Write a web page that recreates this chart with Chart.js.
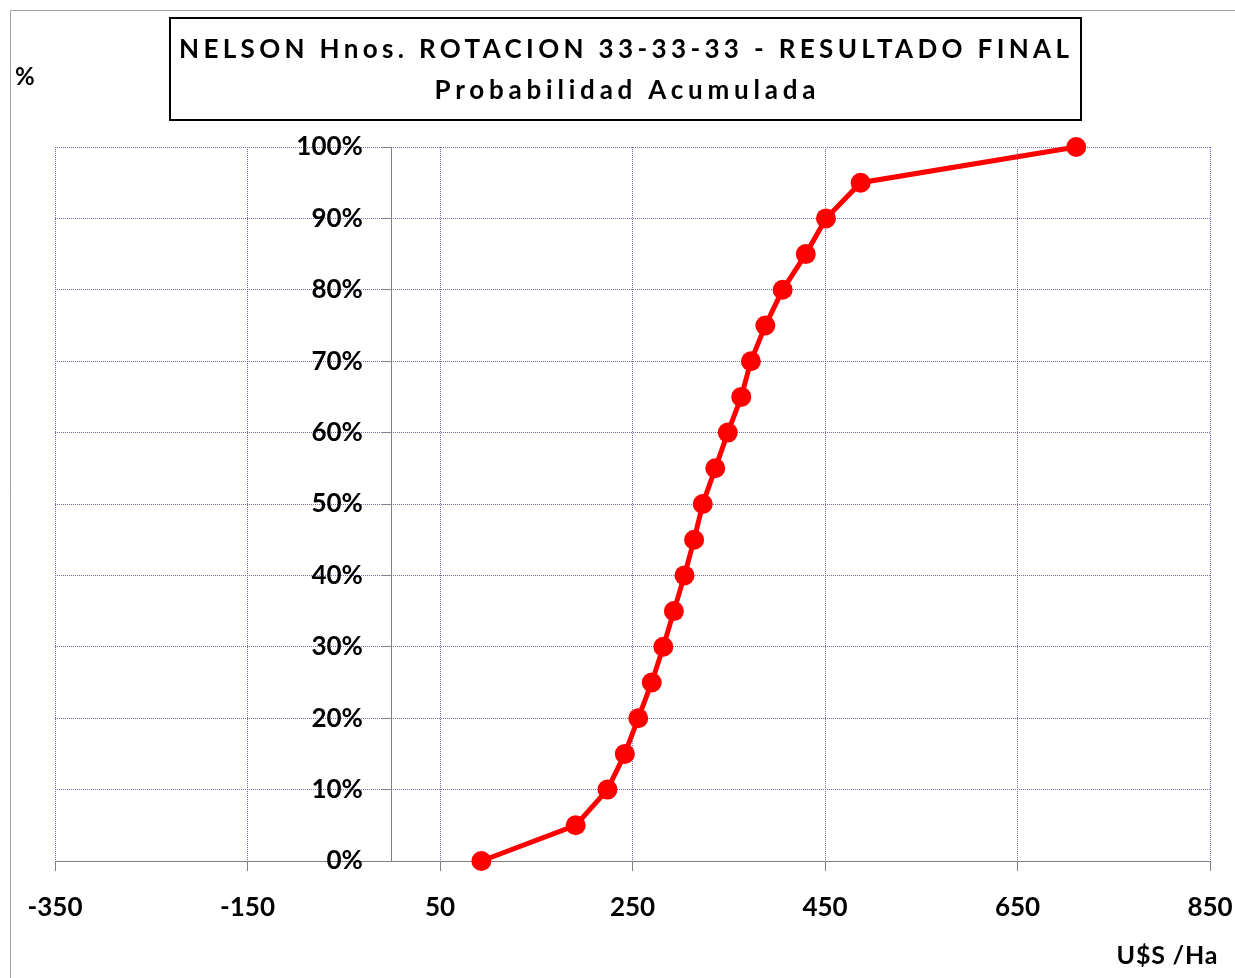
<!DOCTYPE html>
<html>
<head>
<meta charset="utf-8">
<script src="https://cdn.jsdelivr.net/npm/chart.js@4.4.0/dist/chart.umd.min.js"></script>
<style>
  html, body { margin: 0; background: #fff; }
</style>
</head>
<body>
<canvas id="grafico" width="1235" height="978"></canvas>
<script>
// datos
const titulo = ['NELSON Hnos. ROTACION 33-33-33 - RESULTADO FINAL', 'Probabilidad Acumulada'];
const ejeYTitulo = '%';
const ejeXTitulo = 'U$S /Ha';
const ticksX = [-350, -150, 50, 250, 450, 650, 850];
const resultadoUsHa = [93, 191, 224, 242, 256, 270, 282, 293, 304, 314, 323, 336, 349, 363, 373, 388, 406, 430, 451, 487, 711];
const probAcumulada = [0, 0.05, 0.10, 0.15, 0.20, 0.25, 0.30, 0.35, 0.40, 0.45, 0.50, 0.55, 0.60, 0.65, 0.70, 0.75, 0.80, 0.85, 0.90, 0.95, 1.00];

const FUENTE = 'Lato, "Open Sans", sans-serif';
const GRIS = '#808080';
const GRILLA = '#6c6cb8';

const puntos = resultadoUsHa.map((x, i) => ({ x, y: probAcumulada[i] }));

// texto con espaciado ajustado a un ancho
function textoEspaciado(ctx, txt, cx, cy, ancho) {
    ctx.letterSpacing = '0px';
    const w = ctx.measureText(txt).width;
    const esp = (ancho - w) / (txt.length - 1);
    ctx.letterSpacing = esp + 'px';
    ctx.textAlign = 'left';
    ctx.fillText(txt, cx - ancho / 2, cy);
    ctx.letterSpacing = '0px';
}

const decoracion = {
    id: 'decoracion',
    beforeDraw(chart) {
        const ctx = chart.ctx;
        ctx.save();
        ctx.fillStyle = '#fff';
        ctx.fillRect(0, 0, chart.width, chart.height);
        ctx.strokeStyle = '#a0a0a0';
        ctx.lineWidth = 1;
        ctx.beginPath();
        ctx.moveTo(10.5, chart.height);
        ctx.lineTo(10.5, 10.5);
        ctx.lineTo(chart.width, 10.5);
        ctx.stroke();
        ctx.restore();
    },
    afterDraw(chart) {
        const ctx = chart.ctx;
        ctx.save();
        // caja del titulo
        ctx.strokeStyle = '#000';
        ctx.lineWidth = 2;
        ctx.strokeRect(170, 18, 911, 102);
        ctx.fillStyle = '#000';
        ctx.textBaseline = 'middle';
        ctx.font = 'bold 26px ' + FUENTE;
        textoEspaciado(ctx, titulo[0], 624, 50, 890);
        textoEspaciado(ctx, titulo[1], 625, 91, 381);
        // titulos de ejes
        ctx.font = 'bold 24px ' + FUENTE;
        ctx.textAlign = 'left';
        ctx.fillText(ejeYTitulo, 15, 77);
        ctx.font = 'bold 25px ' + FUENTE;
        textoEspaciado(ctx, ejeXTitulo, 1167, 956, 101);
        ctx.restore();
    }
};

// etiquetas del eje Y separadas del eje (posicion x = 0)
function separarEtiquetasY(s) {
    const orig = s._computeLabelItems;
    s._computeLabelItems = function (area) {
        const items = orig.call(this, area);
        const xEje = this.chart.scales.x.getPixelForValue(0);
        items.forEach(it => { it.options.translation[0] = xEje - 29; });
        return items;
    };
}

new Chart(document.getElementById('grafico'), {
    type: 'scatter',
    data: {
        datasets: [{
            label: 'Probabilidad Acumulada',
            data: puntos,
            showLine: true,
            clip: false,
            borderColor: '#ff0000',
            backgroundColor: '#ff0000',
            borderWidth: 5,
            pointRadius: 10,
            pointHoverRadius: 10,
            pointBorderWidth: 0,
            tension: 0
        }]
    },
    options: {
        responsive: false,
        devicePixelRatio: 1,
        animation: false,
        layout: { padding: { left: 55, right: 25, top: 147, bottom: 0 } },
        plugins: {
            legend: { display: false },
            tooltip: { enabled: false },
            title: { display: false }
        },
        scales: {
            x: {
                type: 'linear',
                position: 'bottom',
                min: -350,
                max: 850,
                afterBuildTicks: s => { s.ticks = ticksX.map(v => ({ value: v })); },
                afterFit: s => { s.height = 117; s.paddingLeft = 0; s.paddingRight = 0; },
                grid: { color: GRILLA, tickColor: GRIS, tickLength: 10, lineWidth: 1 },
                border: { color: GRIS, width: 1, dash: [1, 1] },
                ticks: {
                    color: '#000',
                    padding: 21,
                    maxRotation: 0,
                    font: { family: FUENTE, size: 26, weight: 'bold' },
                    callback: v => v
                }
            },
            y: {
                type: 'linear',
                position: { x: 0 },
                min: 0,
                max: 1,
                afterFit: s => { s.paddingTop = 0; s.paddingBottom = 0; separarEtiquetasY(s); },
                grid: { color: GRILLA, tickColor: GRIS, tickLength: 10, lineWidth: 1 },
                border: { color: GRIS, width: 1, dash: [1, 1] },
                ticks: {
                    stepSize: 0.1,
                    color: '#000',
                    padding: 19,
                    font: { family: FUENTE, size: 26, weight: 'bold' },
                    callback: v => Math.round(v * 100) + '%'
                }
            }
        }
    },
    plugins: [decoracion]
});
</script>
</body>
</html>
